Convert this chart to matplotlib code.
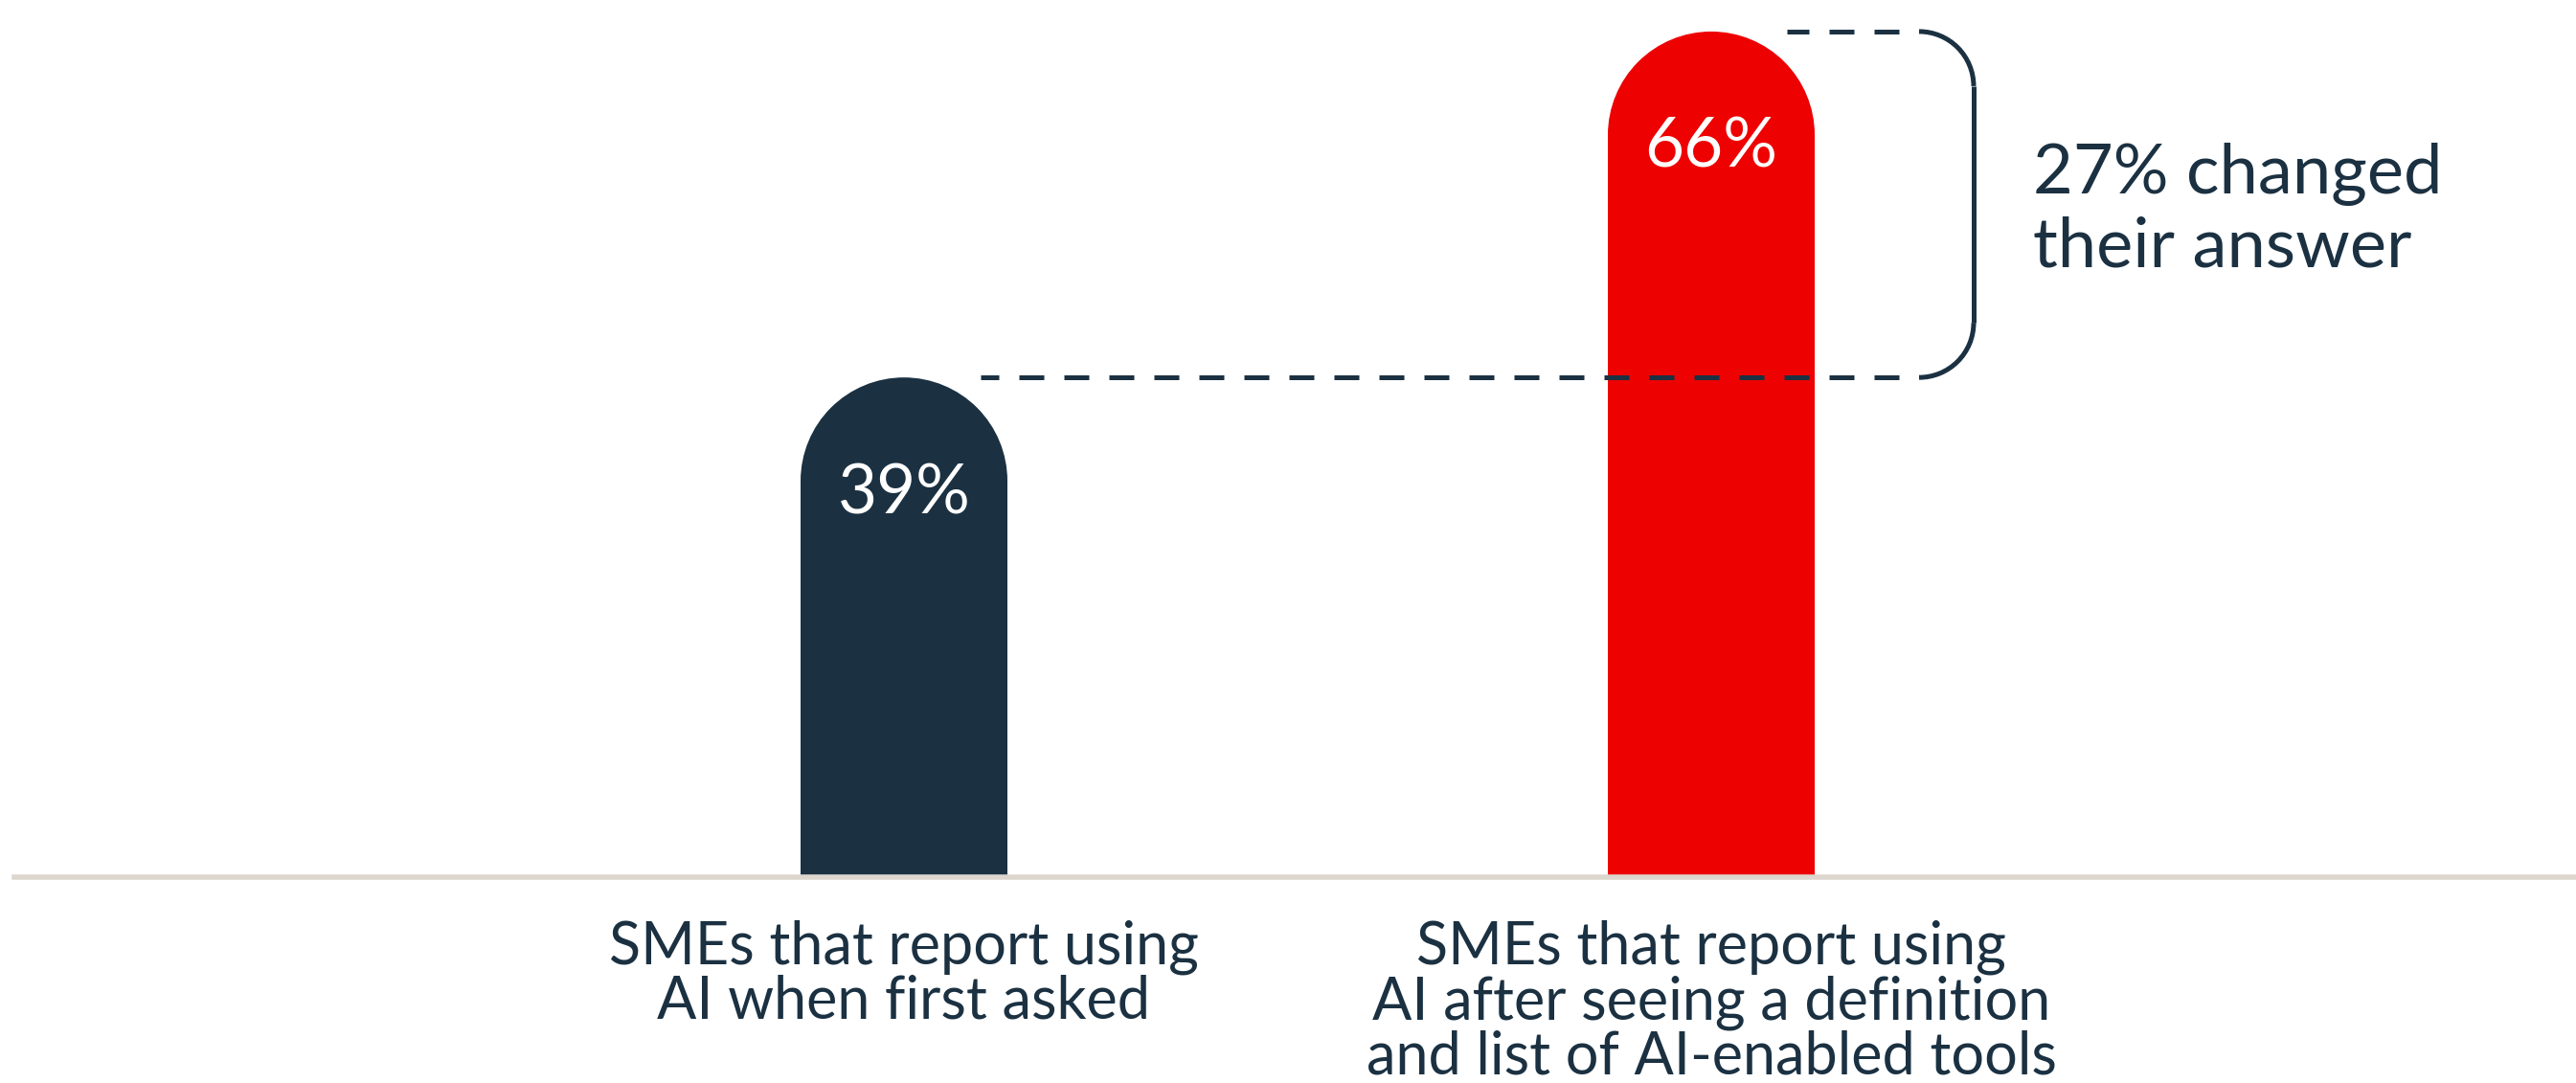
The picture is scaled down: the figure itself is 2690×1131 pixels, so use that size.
import matplotlib.pyplot as plt
from matplotlib.patches import Ellipse, Arc

# data
categories = [
    "SMEs that report using\nAI when first asked",
    "SMEs that report using\nAI after seeing a definition\nand list of AI-enabled tools",
]
values = [39, 66]
value_labels = ["39%", "66%"]
change_label = "27% changed\ntheir answer"

navy = "#1b3142"
red = "#ed0201"
base_col = "#ddd6cf"
bar_colors = [navy, red]

plt.rcParams["font.family"] = ["Lato", "DejaVu Sans"]

W, H, DPI = 2690, 1131, 100
fig = plt.figure(figsize=(W / DPI, H / DPI), dpi=DPI)
ax = fig.add_axes([0, 0, 1, 1])
ax.axis("off")

# layout in pixels
x0_px = 944      # centre of first bar
step_px = 843    # distance between bar centres
base_px = 916    # row of the baseline
unit_px = 13.38  # pixels per percentage point
ax.set_xlim(-x0_px / step_px, (W - x0_px) / step_px)
ax.set_ylim(-(H - base_px) / unit_px, base_px / unit_px)

def dx(p):
    return p / step_px

def dy(p):
    return p / unit_px

def row(p):
    return (base_px - p) / unit_px

bar_w = dx(216)
r_y = dy(108)

for i, (v, c) in enumerate(zip(values, bar_colors)):
    ax.bar(i, v - r_y, width=bar_w, color=c, linewidth=0, zorder=2)
    ax.add_patch(Ellipse((i, v - r_y), bar_w, 2 * r_y, color=c, linewidth=0, zorder=2))
    ax.text(i, v - dy(142), value_labels[i], color="white", fontsize=51,
            ha="center", va="baseline", zorder=4)

ax.axhline(0, xmin=15 / W, xmax=1, color=base_col, lw=4.0, zorder=3)

# dashed guides, drawn from the bracket back towards the bars
lw = 3.6
dash = (5.2, (5.2, 4.2))
x_turn = 1 + dx(217)
ax.plot([x_turn, 0 + dx(80)], [values[0], values[0]], color=navy, lw=lw,
        linestyle=dash, dash_capstyle="butt", zorder=5)
ax.plot([x_turn, 1 + dx(79)], [values[1], values[1]], color=navy, lw=lw,
        linestyle=dash, dash_capstyle="butt", zorder=5)

# bracket
rad = 57
ax.add_patch(Arc((x_turn, values[1] - dy(rad)), 2 * dx(rad), 2 * dy(rad),
                 theta1=0, theta2=90, color=navy, lw=lw, zorder=5))
ax.add_patch(Arc((x_turn, values[0] + dy(rad)), 2 * dx(rad), 2 * dy(rad),
                 theta1=270, theta2=360, color=navy, lw=lw, zorder=5))
ax.plot([x_turn + dx(rad)] * 2, [values[1] - dy(rad), values[0] + dy(rad)],
        color=navy, lw=lw, solid_capstyle="butt", zorder=5)

mid = (values[0] + values[1]) / 2
for k, line in enumerate(change_label.split("\n")):
    ax.text(1 + dx(336), mid + dy(12) - k * dy(77), line, color=navy,
            fontsize=52, ha="left", va="baseline")

# category labels
for i, lab in enumerate(categories):
    for k, line in enumerate(lab.split("\n")):
        ax.text(i, row(1006 + k * 58), line, color=navy, fontsize=44,
                ha="center", va="baseline")

fig.savefig("out.png", dpi=DPI, facecolor="white")
